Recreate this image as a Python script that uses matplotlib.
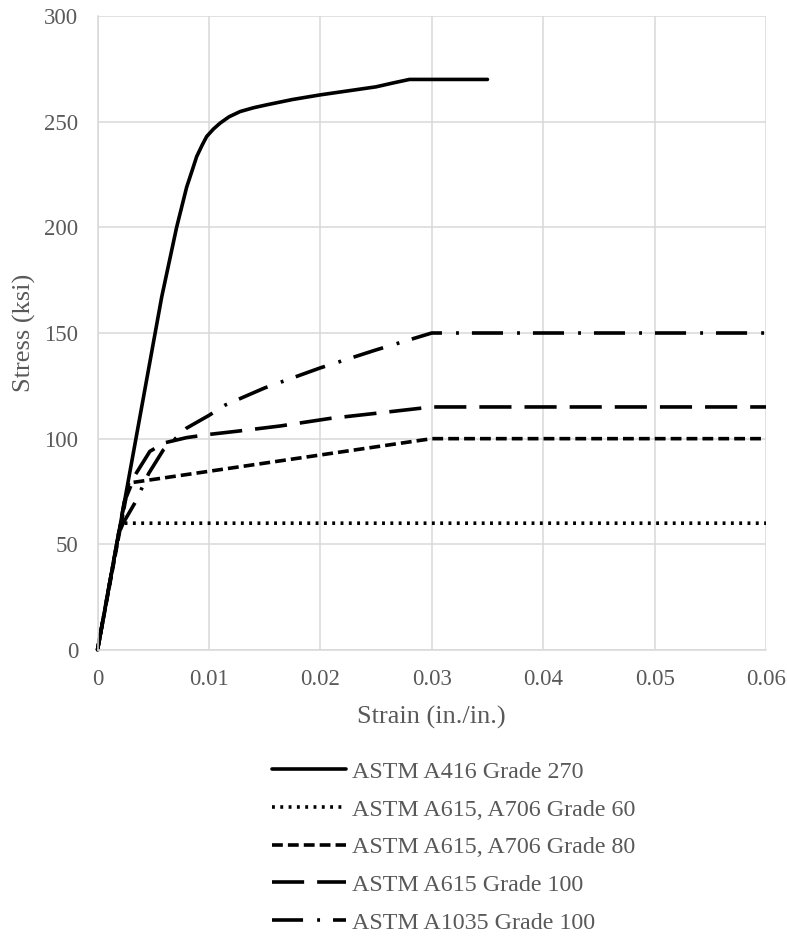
import matplotlib
matplotlib.use("Agg")
import matplotlib.pyplot as plt

plt.rcParams['font.family'] = ['Liberation Serif', 'DejaVu Serif']
gray = '#595959'
grid_c = '#d9d9d9'

# ASTM A416 Grade 270 (prestressing strand)
strain_270 = [0, 0.00576, 0.0071, 0.0080, 0.0085, 0.0089, 0.0094, 0.0098, 0.0104,
              0.0110, 0.0118, 0.0128, 0.0140, 0.0152, 0.0175, 0.0200, 0.0225,
              0.0250, 0.0265, 0.0280, 0.0350]
stress_270 = [0, 167, 200, 219, 227, 233.5, 239, 243, 246.5,
              249.3, 252.3, 254.8, 256.6, 258, 260.5, 262.7, 264.6,
              266.5, 268.3, 270, 270]

# ASTM A615, A706 Grade 60
strain_60 = [0, 0.00207, 0.06]
stress_60 = [0, 60, 60]

# ASTM A615, A706 Grade 80
strain_80 = [0, 0.0028, 0.03, 0.06]
stress_80 = [0, 79, 100, 100]

# ASTM A615 Grade 100
strain_a615 = [0, 0.0024, 0.0034, 0.0047, 0.0060, 0.0080, 0.0100, 0.0125, 0.0164,
               0.0209, 0.0250, 0.0300, 0.0600]
stress_a615 = [0, 70, 83, 94, 98, 100.5, 102, 103.5, 106,
               109.6, 112, 115, 115]

# ASTM A1035 Grade 100
strain_a1035 = [0, 0.0019, 0.0023, 0.0034, 0.0046, 0.0059, 0.0080, 0.0100, 0.0115,
                0.0150, 0.0200, 0.0250, 0.0300, 0.0600]
stress_a1035 = [0, 55, 60, 70, 83.6, 94.6, 105, 111, 116,
                124, 133.5, 142, 150, 150]

labels = ['ASTM A416 Grade 270', 'ASTM A615, A706 Grade 60',
          'ASTM A615, A706 Grade 80', 'ASTM A615 Grade 100',
          'ASTM A1035 Grade 100']

fig = plt.figure(figsize=(7.87, 9.49), dpi=100)
ax = fig.add_axes([0.1239, 0.3151, 0.8494, 0.6680])

lw = 2.6
ax.plot(strain_270, stress_270, color='black', lw=lw, solid_capstyle='round',
        solid_joinstyle='round', label=labels[0], clip_on=False)
ax.plot(strain_60, stress_60, color='black', lw=lw, linestyle=(0, (0.8, 1.5)),
        label=labels[1], clip_on=False)
ax.plot(strain_80, stress_80, color='black', lw=lw, linestyle=(0, (3.0, 1.4)),
        label=labels[2], clip_on=False)
ax.plot(strain_a615, stress_a615, color='black', lw=lw, linestyle=(0, (8.9, 3.6)),
        label=labels[3], clip_on=False)
ax.plot(strain_a1035, stress_a1035, color='black', lw=lw,
        linestyle=(0, (8.6, 3.9, 0.8, 3.6)), label=labels[4], clip_on=False)

ax.set_xlim(0, 0.06)
ax.set_ylim(0, 300)
ax.set_xticks([0, 0.01, 0.02, 0.03, 0.04, 0.05, 0.06])
ax.set_xticklabels(['0', '0.01', '0.02', '0.03', '0.04', '0.05', '0.06'])
ax.set_yticks([0, 50, 100, 150, 200, 250, 300])
ax.grid(True, color=grid_c, lw=1.1)
ax.set_axisbelow(True)
for s in ['top', 'right']:
    ax.spines[s].set_visible(False)
for s in ['left', 'bottom']:
    ax.spines[s].set_color(grid_c)
    ax.spines[s].set_linewidth(1.1)
ax.tick_params(length=0, pad=14, labelsize=16.5, labelcolor=gray)

ax.set_xlabel('Strain (in./in.)', fontsize=19, color=gray)
ax.set_ylabel('Stress (ksi)', fontsize=19, color=gray)
ax.xaxis.set_label_coords(0.5, -0.088)
ax.yaxis.set_label_coords(-0.092, 0.5)

leg = fig.legend(loc='upper left', bbox_to_anchor=(0.3456, 0.1981), frameon=False,
                 fontsize=17.3, handlelength=3.1, handletextpad=0.25,
                 labelspacing=0.66, borderpad=0, borderaxespad=0)
for t in leg.get_texts():
    t.set_color(gray)

fig.savefig('out.png', dpi=100)
